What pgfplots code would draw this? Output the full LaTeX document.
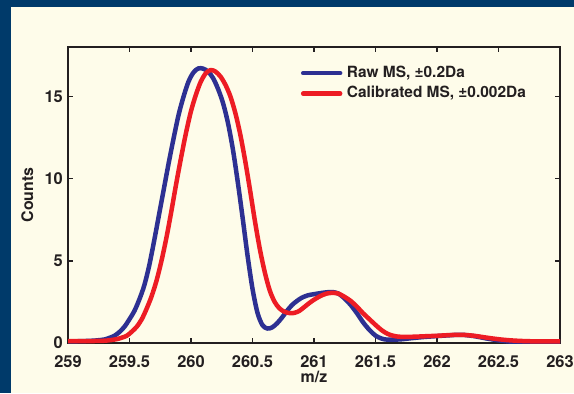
\documentclass[border=0pt]{standalone}
\usepackage{pgfplots}
\pgfplotsset{compat=1.18}
\usepackage{fontspec}
\setmainfont{TeX Gyre Heros}
\definecolor{navy}{RGB}{0,58,106}
\definecolor{cream}{RGB}{254,252,234}
\definecolor{rawblue}{RGB}{45,48,146}
\definecolor{calred}{RGB}{237,28,36}
\definecolor{axgray}{RGB}{35,31,32}
\begin{document}
\begin{tikzpicture}[x=1bp,y=1bp]
\fill[navy] (0,0) rectangle (574,393);
\fill[cream] (11,0) rectangle (574,386);
\begin{axis}[
  at={(68bp,50bp)}, anchor=south west,
  scale only axis, width=492bp, height=296bp,
  xmin=259, xmax=263, ymin=0, ymax=18,
  xtick={259,259.5,260,260.5,261,261.5,262,262.5,263},
  xticklabels={259,259.5,260,260.5,261,261.5,262,262.5,263},
  ytick={0,5,10,15},
  tick align=inside,
  major tick length=5bp,
  tick style={line width=1.5bp, axgray},
  axis line style={line width=2.5bp, axgray},
  axis background/.style={fill=cream},
  /pgf/number format/assume math mode=true,
  xticklabel style={anchor=base, inner sep=0pt, yshift=-24bp, font=\fontsize{16.5}{18}\selectfont\bfseries, text=axgray},
  yticklabel style={anchor=east, inner sep=0pt, xshift=-5bp, font=\fontsize{16.5}{18}\selectfont\bfseries, text=axgray},
  xlabel={m/z},
  ylabel={Counts},
  every axis x label/.style={at={([yshift=-39bp]axis description cs:0.5,0)}, anchor=base, inner sep=0pt, font=\fontsize{16}{18}\selectfont\bfseries, text=axgray},
  every axis y label/.style={at={([xshift=-35bp]axis description cs:0,0.5)}, anchor=base, rotate=90, inner sep=0pt, font=\fontsize{16}{18}\selectfont\bfseries, text=axgray},
  legend style={draw=none, fill=none, at={(rel axis cs:0.473,0.936)}, anchor=north west, inner sep=0pt,
    font=\fontsize{15.5}{18}\selectfont\bfseries, text=axgray,
    nodes={inner sep=0pt, text height=11bp, text depth=3bp},
    row sep=6.6bp, column sep=4.5bp},
  legend cell align=left,
  legend image code/.code={\draw[#1] (0bp,0bp) -- (37bp,0bp);},
]
\addplot[rawblue, line width=4.5bp, smooth, line join=round, line cap=round] table {
x y
259.00 0.10
259.10 0.11
259.20 0.14
259.25 0.17
259.30 0.22
259.34 0.32
259.38 0.45
259.42 0.68
259.46 1.0
259.50 1.45
259.54 1.95
259.58 2.65
259.62 3.5
259.66 4.7
259.70 6.2
259.74 7.8
259.78 9.4
259.82 11.0
259.86 12.5
259.90 13.9
259.94 15.0
259.98 15.9
260.02 16.45
260.06 16.7
260.10 16.68
260.14 16.5
260.18 16.1
260.22 15.45
260.26 14.6
260.30 13.4
260.34 11.8
260.38 9.8
260.42 7.6
260.46 5.3
260.50 3.3
260.54 1.85
260.58 1.1
260.62 0.88
260.66 0.95
260.70 1.2
260.74 1.55
260.78 1.95
260.82 2.3
260.86 2.55
260.90 2.75
260.95 2.9
261.00 2.97
261.05 3.03
261.10 3.08
261.15 3.1
261.20 3.0
261.25 2.7
261.30 2.3
261.35 1.8
261.40 1.25
261.45 0.8
261.50 0.45
261.55 0.27
261.60 0.2
261.70 0.22
261.80 0.3
261.90 0.37
262.00 0.42
262.10 0.47
262.20 0.5
262.30 0.42
262.40 0.28
262.50 0.16
262.60 0.08
262.70 0.04
262.80 0.02
262.90 0.02
263.00 0.02
};
\addlegendentry{Raw MS, ±0.2Da}
\addplot[calred, line width=4.5bp, smooth, line join=round, line cap=round] table {
x y
259.00 0.12
259.10 0.12
259.20 0.12
259.30 0.14
259.35 0.18
259.40 0.24
259.44 0.33
259.48 0.45
259.52 0.7
259.56 1.0
259.60 1.45
259.64 2.1
259.68 2.85
259.72 3.8
259.76 5.0
259.80 6.4
259.84 8.0
259.88 9.7
259.92 11.3
259.96 12.8
260.00 14.1
260.04 15.1
260.08 15.9
260.12 16.4
260.16 16.6
260.20 16.5
260.24 16.2
260.28 15.7
260.32 15.0
260.36 14.0
260.40 12.7
260.44 11.1
260.48 9.3
260.52 7.4
260.56 5.7
260.60 4.3
260.64 3.2
260.68 2.5
260.72 2.1
260.76 1.9
260.80 1.82
260.84 1.83
260.88 1.95
260.92 2.18
260.96 2.42
261.00 2.63
261.05 2.85
261.10 3.0
261.15 3.05
261.20 3.0
261.25 2.8
261.30 2.55
261.35 2.2
261.40 1.8
261.45 1.45
261.50 1.1
261.55 0.78
261.60 0.55
261.65 0.43
261.70 0.38
261.80 0.38
261.90 0.41
262.00 0.44
262.10 0.48
262.20 0.5
262.30 0.44
262.40 0.33
262.50 0.23
262.60 0.16
262.70 0.12
262.80 0.10
262.90 0.10
263.00 0.10
};
\addlegendentry{Calibrated MS, ±0.002Da}
\node[anchor=base west, inner sep=0pt, yshift=6bp, xshift=1bp, font=\fontsize{16}{18}\selectfont\bfseries, text=axgray] at (rel axis cs:0,1) {x 10\textsuperscript{4}};
\end{axis}
\pgfresetboundingbox
\path (0,0) rectangle (574,393);
\end{tikzpicture}
\end{document}
